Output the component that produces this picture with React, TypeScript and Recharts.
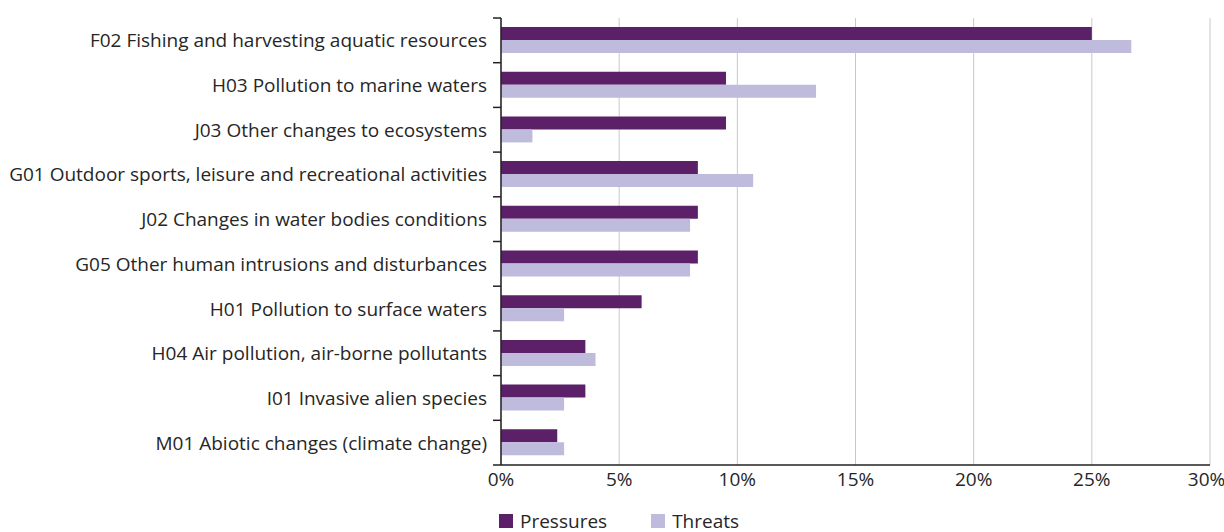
import { BarChart, Bar, XAxis, YAxis, CartesianGrid, Legend } from "recharts";

const categories = [
  "F02 Fishing and harvesting aquatic resources",
  "H03 Pollution to marine waters",
  "J03 Other changes to ecosystems",
  "G01 Outdoor sports, leisure and recreational activities",
  "J02 Changes in water bodies conditions",
  "G05 Other human intrusions and disturbances",
  "H01 Pollution to surface waters",
  "H04 Air pollution, air-borne pollutants",
  "I01 Invasive alien species",
  "M01 Abiotic changes (climate change)",
];

const pressures = [25.0, 9.52, 9.52, 8.33, 8.33, 8.33, 5.95, 3.57, 3.57, 2.38];
const threats = [26.67, 13.33, 1.33, 10.67, 8.0, 8.0, 2.67, 4.0, 2.67, 2.67];
const xTicks = [0, 5, 10, 15, 20, 25, 30];

const data = categories.map((name, i) => ({
  name,
  pressures: pressures[i],
  threats: threats[i],
}));

const W = 1224;
const H = 532;
const TOP = 18;
const PLOT_BOTTOM = 465;
const AXIS_X = 501;
const BAND = (PLOT_BOTTOM - TOP) / categories.length;
const FONT = "'Open Sans', 'Noto Sans', sans-serif";
const FS = 19;
const TEXT = "#262626";
const DARK = "#5b2068";
const LIGHT = "#bebbdc";

function CategoryTick(props: any) {
  const { y, payload, index } = props;
  const last = index === categories.length - 1;
  return (
    <g>
      <line x1={AXIS_X - 8} x2={AXIS_X} y1={y - BAND / 2} y2={y - BAND / 2} stroke="#222" strokeWidth={1.5} />
      {last && (
        <line x1={AXIS_X - 8} x2={AXIS_X} y1={y + BAND / 2} y2={y + BAND / 2} stroke="#222" strokeWidth={1.5} />
      )}
      <text x={AXIS_X - 14} y={y} textAnchor="end" dominantBaseline="central" fill={TEXT} fontSize={FS} fontFamily={FONT}>
        {payload.value}
      </text>
    </g>
  );
}

function LegendBox() {
  const items = [
    { label: "Pressures", color: DARK },
    { label: "Threats", color: LIGHT },
  ];
  return (
    <div style={{ display: "flex", height: 20, alignItems: "center", fontFamily: FONT, fontSize: FS, color: TEXT }}>
      {items.map((it) => (
        <div key={it.label} style={{ display: "flex", alignItems: "center", marginRight: 44 }}>
          <span style={{ width: 14, height: 14, background: it.color, display: "inline-block", marginRight: 7 }} />
          <span>{it.label}</span>
        </div>
      ))}
    </div>
  );
}

export default function App() {
  return (
    <div style={{ position: "absolute", left: 0, top: 0, width: W, height: H, background: "#fff" }}>
      <BarChart
        width={W}
        height={H}
        data={data}
        layout="vertical"
        margin={{ top: TOP, right: W - 1210, left: 0, bottom: 17 }}
        barGap={0}
        barSize={13}
      >
        <CartesianGrid horizontal={false} stroke="#c8c8c8" />
        <XAxis
          type="number"
          domain={[0, 30]}
          ticks={xTicks}
          tickFormatter={(v: number) => `${v}%`}
          axisLine={{ stroke: "#222", strokeWidth: 1.5 }}
          tickLine={false}
          tickMargin={2}
          height={30}
          tick={{ fill: TEXT, fontSize: FS, fontFamily: FONT }}
        />
        <YAxis
          type="category"
          dataKey="name"
          width={AXIS_X}
          axisLine={{ stroke: "#222", strokeWidth: 1.5 }}
          tickLine={false}
          tick={<CategoryTick />}
          interval={0}
        />
        <Legend content={<LegendBox />} wrapperStyle={{ left: 499, bottom: 1, width: "auto" }} />
        <Bar dataKey="pressures" name="Pressures" fill={DARK} isAnimationActive={false} />
        <Bar dataKey="threats" name="Threats" fill={LIGHT} isAnimationActive={false} />
      </BarChart>
    </div>
  );
}
